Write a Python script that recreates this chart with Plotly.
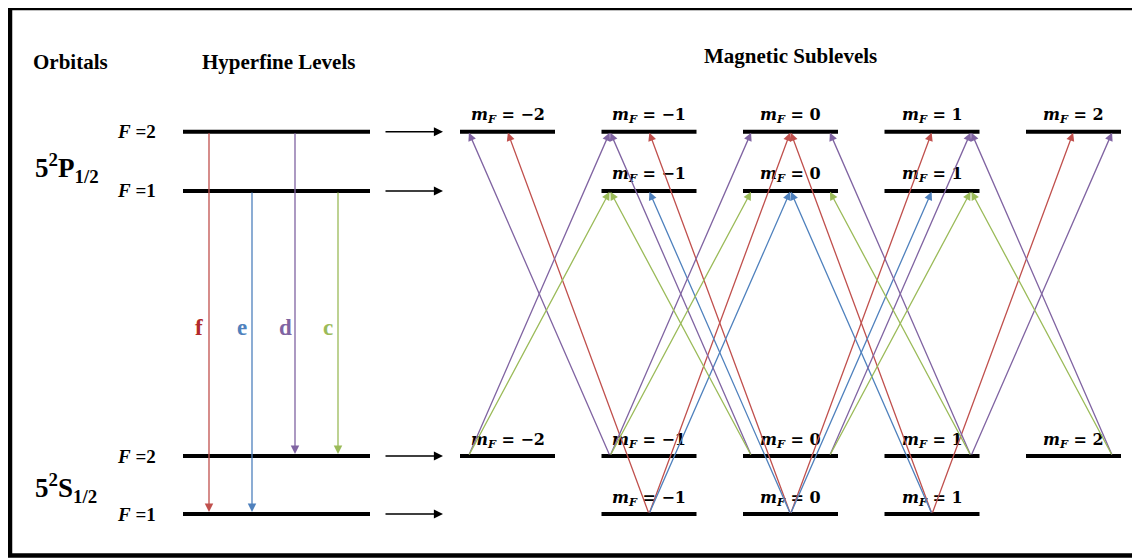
import plotly.graph_objects as go

# ---------------- data ----------------
headers = ["Orbitals", "Hyperfine Levels", "Magnetic Sublevels"]

level_names = ["S_F1", "S_F2", "P_F1", "P_F2"]
level_energy = [0.0, 1.0, 5.57, 6.59]            # arbitrary energy units
level_F = [1, 2, 1, 2]
level_mF = [[-1, 0, 1], [-2, -1, 0, 1, 2], [-1, 0, 1], [-2, -1, 0, 1, 2]]

orbital_labels = ["5<sup>2</sup>S<sub>1/2</sub>", "5<sup>2</sup>P<sub>1/2</sub>"]
orbital_levels = [[0, 1], [2, 3]]

trans_labels = ["f", "e", "d", "c"]
trans_lower = [0, 0, 1, 1]
trans_upper = [3, 2, 3, 2]

# sublevel transitions (lower mF, upper mF) for each hyperfine transition
trans_f = [(-1, -2), (-1, 0), (0, -1), (0, 1), (1, 0), (1, 2)]
trans_e = [(-1, 0), (0, -1), (0, 1), (1, 0)]
trans_d = [(-2, -1), (-1, -2), (-1, 0), (0, -1), (0, 1), (1, 0), (1, 2), (2, 1)]
trans_c = [(-2, -1), (-1, 0), (0, -1), (0, 1), (1, 0), (2, 1)]
trans_pairs = [trans_f, trans_e, trans_d, trans_c]

# ---------------- styles / layout constants ----------------
PAGE_W, PAGE_H = 1140, 559
OFF = 8                                  # default page body margin
W, H = PAGE_W - OFF, PAGE_H - OFF
PX_PER_E = 58.0
E0_PIX = 514.0
Y_RANGE = [(E0_PIX - PAGE_H) / PX_PER_E, (E0_PIX - OFF) / PX_PER_E]

COLORS = {"f": "#C0504D", "e": "#4F81BD", "d": "#8064A2", "c": "#9BBB59"}
LETTER_COLORS = {"f": "#B22A2A", "e": "#4F81BD", "d": "#8064A2", "c": "#9BBB59"}
SIDE_OFFSET = {"f": 0, "e": 0, "d": 39, "c": 39}

HF_X0, HF_X1 = 183, 370
ARR_X0, ARR_X1 = 384, 443
V_X0, V_DX = 209, 43
SUB_XC, SUB_DX, SUB_HW = 790.5, 141.5, 47.5
SERIF = "Liberation Serif"
MATH = "DejaVu Serif"


def sign(v):
    return (v > 0) - (v < 0)


def sub_x(m):
    return SUB_XC + m * SUB_DX


def px(x):
    return (x - OFF) / W


def py(y):
    return 1 - (y - OFF) / H


fig = go.Figure()
shapes = []
ann = []

# frame
shapes.append(dict(type="rect", xref="paper", yref="paper",
                   x0=px(10), x1=px(1136.5), y0=py(555.5), y1=py(8),
                   line=dict(color="black", width=4.5), fillcolor="rgba(0,0,0,0)"))

# headers
header_pos = [(70, 62), (278, 62), (790, 56)]
for txt, (hx, hy) in zip(headers, header_pos):
    ann.append(dict(xref="paper", yref="paper", x=px(hx), y=py(hy),
                    text="<b>" + txt + "</b>", showarrow=False,
                    font=dict(family=SERIF, size=21, color="black"),
                    xanchor="center", yanchor="middle"))

# orbital labels
for lab, lv, ys in zip(orbital_labels, orbital_levels, [-3, -7]):
    e_mid = sum(level_energy[i] for i in lv) / len(lv)
    ann.append(dict(x=33, y=e_mid, xref="x", yref="y", text="<b>" + lab + "</b>",
                    showarrow=False, xanchor="left", yanchor="middle", yshift=ys,
                    font=dict(family=SERIF, size=27, color="black")))

# hyperfine levels, F labels, horizontal arrows
for i, e in enumerate(level_energy):
    shapes.append(dict(type="line", xref="x", yref="y", x0=HF_X0, x1=HF_X1, y0=e, y1=e,
                       line=dict(color="black", width=4)))
    ann.append(dict(x=158, y=e, xref="x", yref="y",
                    text="<b><i>F</i> =%d</b>" % level_F[i], showarrow=False,
                    xanchor="right", yanchor="middle",
                    font=dict(family=SERIF, size=19, color="black")))
    ann.append(dict(x=ARR_X1, y=e, ax=ARR_X0, ay=e, xref="x", yref="y",
                    axref="x", ayref="y", text="", showarrow=True,
                    arrowhead=2, arrowsize=1.3, arrowwidth=1.4, arrowcolor="black",
                    standoff=0, startstandoff=0))

# vertical hyperfine transition arrows
for k, lab in enumerate(trans_labels):
    xv = V_X0 + k * V_DX
    e_up = level_energy[trans_upper[k]]
    e_lo = level_energy[trans_lower[k]]
    col = COLORS[lab]
    ann.append(dict(x=xv, y=e_lo, ax=xv, ay=e_up, xref="x", yref="y",
                    axref="x", ayref="y", text="", showarrow=True,
                    arrowhead=2, arrowsize=1.3, arrowwidth=1.3, arrowcolor=col,
                    standoff=2, startstandoff=0))
    e_mid = (level_energy[1] + level_energy[2]) / 2
    ann.append(dict(x=xv - 10, y=e_mid, xref="x", yref="y", text="<b>" + lab + "</b>",
                    showarrow=False, xanchor="center", yanchor="middle", yshift=-4,
                    font=dict(family=SERIF, size=23, color=LETTER_COLORS[lab])))

# magnetic sublevels
for i, e in enumerate(level_energy):
    for m in level_mF[i]:
        xc = sub_x(m)
        shapes.append(dict(type="line", xref="x", yref="y", x0=xc - SUB_HW, x1=xc + SUB_HW,
                           y0=e, y1=e, line=dict(color="black", width=4)))
        ms = ("−%d" % abs(m)) if m < 0 else "%d" % m
        ann.append(dict(x=xc, y=e, xref="x", yref="y",
                        text="<b><i>m</i><sub><i>F</i></sub> = %s</b>" % ms,
                        showarrow=False, xanchor="center", yanchor="middle", yshift=16,
                        font=dict(family=MATH, size=16, color="black")))

# sublevel transitions
for k, lab in enumerate(trans_labels):
    e_lo = level_energy[trans_lower[k]]
    e_up = level_energy[trans_upper[k]]
    off = SIDE_OFFSET[lab]
    for m_lo, m_up in trans_pairs[k]:
        s_lo = sign(m_lo) if m_lo != 0 else sign(m_up)
        s_up = sign(m_up) if m_up != 0 else sign(m_lo)
        x_lo = sub_x(m_lo) + s_lo * off
        x_up = sub_x(m_up) + s_up * off
        ann.append(dict(x=x_up, y=e_up, ax=x_lo, ay=e_lo, xref="x", yref="y",
                        axref="x", ayref="y", text="", showarrow=True,
                        arrowhead=2, arrowsize=1.25, arrowwidth=1.3,
                        arrowcolor=COLORS[lab], standoff=1, startstandoff=0))

fig.update_layout(
    width=W, height=H, margin=dict(l=0, r=0, t=0, b=0),
    paper_bgcolor="white", plot_bgcolor="white",
    xaxis=dict(range=[OFF, PAGE_W], visible=False, fixedrange=True),
    yaxis=dict(range=Y_RANGE, visible=False, fixedrange=True),
    shapes=shapes, annotations=ann, showlegend=False,
)

fig.write_html("out.html")
